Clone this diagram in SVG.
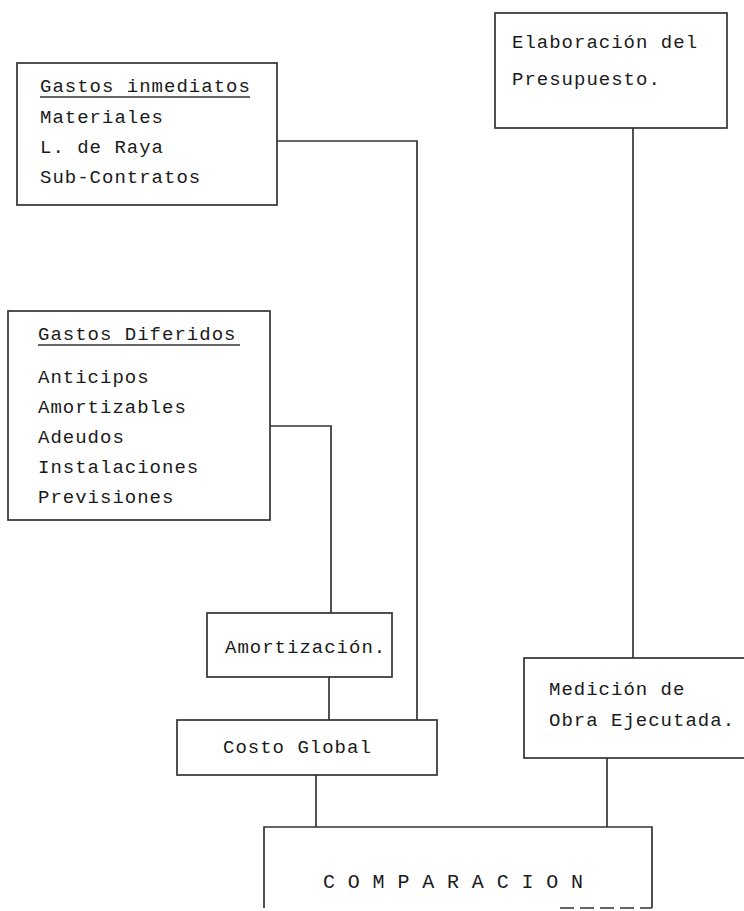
<svg xmlns="http://www.w3.org/2000/svg" width="744" height="911" viewBox="0 0 744 911">
<style>
.box{fill:none;stroke:#333;stroke-width:1.7}
.ln{fill:none;stroke:#333;stroke-width:1.7}
.t{font-family:"Liberation Mono","DejaVu Sans Mono",monospace;font-size:19px;letter-spacing:1px;fill:#1a1a1a}
.big{font-size:20px;letter-spacing:0.4px}
</style>
<rect width="744" height="911" fill="#fff"/>
<g id="connectors">
<path class="ln" d="M277,141 H417 V720"/>
<path class="ln" d="M270,426 H331 V613"/>
<path class="ln" d="M329,677 V720"/>
<path class="ln" d="M633,128 V658"/>
<path class="ln" d="M316,775 V827"/>
<path class="ln" d="M607,758 V827"/>
</g>
<g id="gastos-inmediatos">
<rect class="box" x="17" y="63" width="260" height="142"/>
<text class="t" x="40" y="92">Gastos inmediatos</text>
<line class="ln" x1="40" y1="97" x2="250" y2="97"/>
<text class="t" x="40" y="123">Materiales</text>
<text class="t" x="40" y="153">L. de Raya</text>
<text class="t" x="40" y="183">Sub-Contratos</text>
</g>
<g id="elaboracion">
<rect class="box" x="495" y="13" width="232" height="115"/>
<text class="t" x="512" y="48">Elaboración del</text>
<text class="t" x="512" y="85">Presupuesto.</text>
</g>
<g id="gastos-diferidos">
<rect class="box" x="8" y="311" width="262" height="209"/>
<text class="t" x="38" y="340">Gastos Diferidos</text>
<line class="ln" x1="38" y1="345" x2="240" y2="345"/>
<text class="t" x="38" y="383">Anticipos</text>
<text class="t" x="38" y="413">Amortizables</text>
<text class="t" x="38" y="443">Adeudos</text>
<text class="t" x="38" y="473">Instalaciones</text>
<text class="t" x="38" y="503">Previsiones</text>
</g>
<g id="amortizacion">
<rect class="box" x="207" y="613" width="185" height="64"/>
<text class="t" x="225" y="653">Amortización.</text>
</g>
<g id="costo-global">
<rect class="box" x="177" y="720" width="260" height="55"/>
<text class="t" x="223" y="753">Costo Global</text>
</g>
<g id="medicion">
<rect class="box" x="524" y="658" width="230" height="100"/>
<text class="t" x="549" y="695">Medición de</text>
<text class="t" x="549" y="726">Obra Ejecutada.</text>
</g>
<g id="comparacion">
<path class="box" d="M264,908 V827 H652 V908"/>
<path class="ln" d="M560,908 H652" stroke-dasharray="14,6"/>
<text class="t big" x="323" y="888">C O M P A R A C I O N</text>
</g>
</svg>
